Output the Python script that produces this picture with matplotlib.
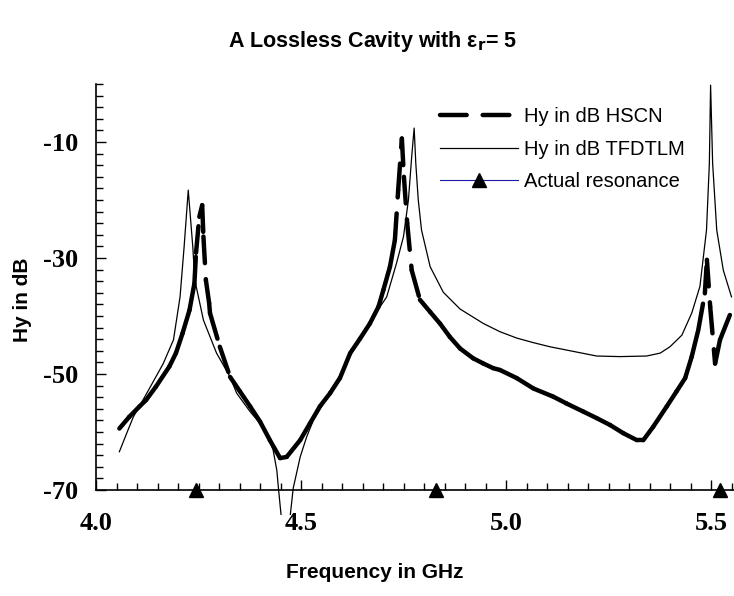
import matplotlib
matplotlib.use('Agg')
import matplotlib.pyplot as plt
from matplotlib.collections import LineCollection
from matplotlib.lines import Line2D
from matplotlib.patches import Rectangle
from matplotlib.ticker import MultipleLocator, FixedLocator
import numpy as np

# HSCN result (thick dashed)
hscn_f = [4.057, 4.081, 4.106, 4.122, 4.146, 4.179, 4.195, 4.211, 4.228, 4.240,
          4.244, 4.252, 4.259, 4.262, 4.268, 4.276, 4.278, 4.302, 4.327, 4.351,
          4.376, 4.400, 4.424, 4.449, 4.465, 4.498, 4.522, 4.546, 4.571, 4.595,
          4.620, 4.644, 4.668, 4.689, 4.701, 4.717, 4.729, 4.737, 4.746, 4.751,
          4.759, 4.770, 4.790, 4.815, 4.839, 4.863, 4.888, 4.920, 4.945, 4.969,
          4.985, 5.026, 5.067, 5.115, 5.148, 5.189, 5.221, 5.254, 5.286, 5.319,
          5.335, 5.359, 5.392, 5.416, 5.437, 5.453, 5.469, 5.485, 5.490, 5.498,
          5.510, 5.522, 5.554]
hscn_db = [-59.4, -57.4, -55.6, -54.5, -52.2, -48.7, -46.4, -43.0, -39.0, -34.4,
           -29.1, -22.9, -20.9, -26.3, -33.8, -37.8, -39.5, -45.3, -50.5, -53.0,
           -55.6, -58.2, -61.4, -64.5, -64.3, -61.4, -58.5, -55.6, -53.3, -50.7,
           -46.4, -43.9, -41.3, -38.4, -35.5, -31.5, -26.9, -18.3, -9.4, -16.0,
           -24.0, -32.1, -37.2, -39.3, -41.3, -43.6, -45.6, -47.3, -48.2, -49.0,
           -49.3, -50.7, -52.5, -53.9, -55.1, -56.5, -57.6, -58.8, -60.2, -61.4,
           -61.4, -59.1, -55.6, -53.0, -50.7, -47.0, -42.4, -36.1, -30.3, -38.4,
           -48.2, -44.1, -38.4]

# TFDTLM result (thin solid)
tlm_f = [4.057, 4.075, 4.091, 4.124, 4.164, 4.189, 4.205, 4.215, 4.225, 4.236,
         4.241, 4.262, 4.294, 4.327, 4.343, 4.376, 4.400, 4.420, 4.432, 4.441,
         4.445, 4.462, 4.481, 4.498, 4.514, 4.530, 4.555, 4.571, 4.595, 4.620,
         4.644, 4.668, 4.693, 4.709, 4.733, 4.750, 4.762, 4.770, 4.776, 4.780,
         4.786, 4.794, 4.815, 4.847, 4.888, 4.945, 4.985, 5.026, 5.067, 5.107,
         5.164, 5.221, 5.278, 5.343, 5.376, 5.400, 5.429, 5.453, 5.473, 5.489,
         5.496, 5.499, 5.504, 5.514, 5.530, 5.550]
tlm_db = [-63.4, -60.2, -57.4, -53.3, -48.2, -44.1, -36.7, -28.0, -18.3, -28.0,
          -33.8, -40.7, -46.4, -50.5, -53.3, -56.5, -58.5, -60.8, -63.1, -66.6,
          -69.7, -82.0, -69.7, -64.3, -60.8, -58.0, -55.0, -52.9, -50.3, -46.6,
          -43.9, -41.0, -38.4, -36.7, -30.9, -26.3, -20.0, -12.5, -7.6, -13.7,
          -20.0, -25.2, -31.5, -35.9, -38.8, -41.3, -42.7, -43.8, -44.6, -45.3,
          -46.1, -46.9, -47.0, -46.9, -46.4, -45.3, -43.3, -39.5, -34.9, -25.2,
          -13.7, -0.2, -13.7, -25.2, -32.1, -36.7]

# actual resonance frequencies
res_f = [4.244, 4.829, 5.522]
res_db = [-70, -70, -70]

DASH = (0, (6.0, 3.6))

W, H = 734, 596
fig = plt.figure(figsize=(W / 100, H / 100), dpi=100)
ax = fig.add_axes([96 / W, 106 / H, 638 / W, 406 / H])

# HSCN: each segment restarts its dash, like the spreadsheet original
pts = np.column_stack([hscn_f, hscn_db])
segs = np.stack([pts[:-1], pts[1:]], axis=1)
lc = LineCollection(segs, colors='black', linewidths=3.2,
                    linestyles=[DASH], capstyle='round', zorder=3)
ax.add_collection(lc)

tlm_line, = ax.plot(tlm_f, tlm_db, color='black', lw=0.9, zorder=3)
tlm_line.set_clip_path(Rectangle((3.9, -74.3), 2.0, 80.0, transform=ax.transData))

ax.plot(res_f, res_db, color='#1a1aa6', lw=0.8, zorder=1)
ax.plot(res_f, res_db, linestyle='none', marker='^', color='black',
        markersize=10, zorder=5, clip_on=False)

ax.set_xlim(4.0, 4.0 + 638 / 410)
ax.set_ylim(-70, 0)

for s in ['top', 'right']:
    ax.spines[s].set_visible(False)
for s in ['left', 'bottom']:
    ax.spines[s].set_linewidth(1.2)

ax.xaxis.set_major_locator(FixedLocator([4.0, 4.5, 5.0, 5.5]))
ax.xaxis.set_minor_locator(MultipleLocator(0.05))
ax.yaxis.set_major_locator(FixedLocator([-70, -50, -30, -10]))
ax.yaxis.set_minor_locator(MultipleLocator(2))
ax.tick_params(which='both', direction='in', width=1.0)
ax.tick_params(which='major', length=7)
ax.tick_params(which='minor', length=5)
ax.tick_params(axis='x', which='major', pad=16)
ax.tick_params(axis='y', which='major', pad=13)
ax.set_xticklabels(['4.0', '4.5', '5.0', '5.5'])
ax.set_yticklabels(['-70', '-50', '-30', '-10'])
for lab in ax.get_xticklabels() + ax.get_yticklabels():
    lab.set_fontfamily('Liberation Serif')
    lab.set_fontweight('bold')
    lab.set_fontsize(19)

sans = 'Liberation Sans'
fig.text(373 / W, 1 - 41 / H, 'A Lossless Cavity with ε$_\\mathbf{r}$= 5',
         ha='center', va='center', fontsize=15.5, fontweight='bold', family=sans)
fig.text(375 / W, 1 - 573 / H, 'Frequency in GHz', ha='center', va='center',
         fontsize=15, fontweight='bold', family=sans)
fig.text(22 / W, 1 - 300 / H, 'Hy in dB', ha='center', va='center',
         rotation=90, fontsize=15, fontweight='bold', family=sans)

handles = [
    Line2D([], [], color='black', lw=3.2, linestyle=DASH,
           solid_capstyle='round', dash_capstyle='round'),
    Line2D([], [], color='black', lw=0.9),
    Line2D([], [], color='#1a1aa6', lw=0.8, marker='^', markersize=10,
           markerfacecolor='black', markeredgecolor='black'),
]
labels = ['Hy in dB HSCN', 'Hy in dB TFDTLM', 'Actual resonance']
leg = fig.legend(handles, labels, loc='upper left',
                 bbox_to_anchor=(440 / W, 1 - 107 / H), bbox_transform=fig.transFigure,
                 frameon=False, borderpad=0, borderaxespad=0, handlelength=3.85,
                 handletextpad=0.3, labelspacing=0.68, prop={'family': sans, 'size': 14.5})

fig.savefig('out.png', dpi=100)
